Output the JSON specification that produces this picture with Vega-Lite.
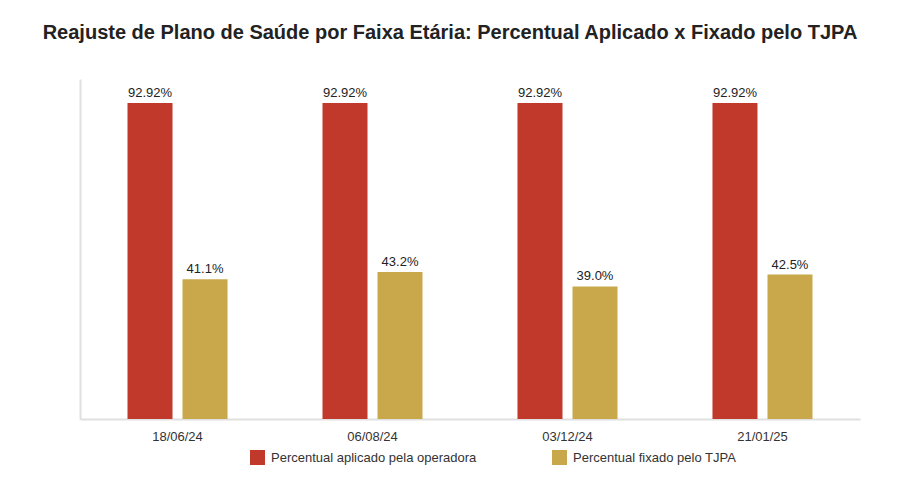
{
  "$schema": "https://vega.github.io/schema/vega-lite/v6.json",
  "autosize": {"type": "none"},
  "width": 780,
  "height": 340,
  "padding": {"left": 80, "top": 79, "right": 40, "bottom": 81},
  "background": "white",
  "title": {
    "text": "Reajuste de Plano de Saúde por Faixa Etária: Percentual Aplicado x Fixado pelo TJPA",
    "font": "Liberation Sans",
    "fontSize": 20,
    "fontWeight": "bold",
    "color": "#222222",
    "anchor": "middle",
    "dx": -20,
    "offset": 36
  },
  "config": {
    "view": {"stroke": null},
    "font": "Liberation Sans"
  },
  "data": {
    "values": [
      {"data": "18/06/24", "serie": "Percentual aplicado pela operadora", "valor": 0.9292},
      {"data": "18/06/24", "serie": "Percentual fixado pelo TJPA", "valor": 0.411},
      {"data": "06/08/24", "serie": "Percentual aplicado pela operadora", "valor": 0.9292},
      {"data": "06/08/24", "serie": "Percentual fixado pelo TJPA", "valor": 0.432},
      {"data": "03/12/24", "serie": "Percentual aplicado pela operadora", "valor": 0.9292},
      {"data": "03/12/24", "serie": "Percentual fixado pelo TJPA", "valor": 0.39},
      {"data": "21/01/25", "serie": "Percentual aplicado pela operadora", "valor": 0.9292},
      {"data": "21/01/25", "serie": "Percentual fixado pelo TJPA", "valor": 0.425}
    ]
  },
  "encoding": {
    "x": {
      "field": "data",
      "type": "nominal",
      "sort": null,
      "title": null,
      "scale": {"paddingInner": 0.487, "paddingOuter": 0.2436},
      "axis": {
        "labelAngle": 0,
        "labelFontSize": 13,
        "labelColor": "#333333",
        "labelPadding": 11,
        "ticks": false,
        "domainColor": "#e0e0e0",
        "domainWidth": 2,
        "grid": false
      }
    },
    "xOffset": {
      "field": "serie",
      "type": "nominal",
      "sort": ["Percentual aplicado pela operadora", "Percentual fixado pelo TJPA"],
      "scale": {"paddingInner": 0.1818, "paddingOuter": 0}
    },
    "y": {
      "field": "valor",
      "type": "quantitative",
      "title": null,
      "scale": {"domain": [0, 1], "nice": false},
      "axis": {
        "labels": false,
        "ticks": false,
        "grid": false,
        "domainColor": "#e0e0e0",
        "domainWidth": 2
      }
    }
  },
  "layer": [
    {
      "mark": {"type": "bar"},
      "encoding": {
        "color": {
          "field": "serie",
          "type": "nominal",
          "title": null,
          "scale": {
            "domain": ["Percentual aplicado pela operadora", "Percentual fixado pelo TJPA"],
            "range": ["#C0392B", "#C9A84C"]
          },
          "legend": {
            "orient": "none",
            "legendX": 170,
            "legendY": 371,
            "direction": "horizontal",
            "symbolType": "square",
            "symbolSize": 225,
            "symbolStrokeWidth": 0,
            "labelFontSize": 13,
            "labelColor": "#333333",
            "labelOffset": 6,
            "columnPadding": 75,
            "labelLimit": 400
          }
        }
      }
    },
    {
      "transform": [{"filter": "datum.serie == 'Percentual aplicado pela operadora'"}],
      "mark": {"type": "text", "baseline": "bottom", "dy": -3, "fontSize": 13, "color": "#222222"},
      "encoding": {
        "text": {"field": "valor", "type": "quantitative", "format": ".2%"}
      }
    },
    {
      "transform": [{"filter": "datum.serie == 'Percentual fixado pelo TJPA'"}],
      "mark": {"type": "text", "baseline": "bottom", "dy": -3, "fontSize": 13, "color": "#222222"},
      "encoding": {
        "text": {"field": "valor", "type": "quantitative", "format": ".1%"}
      }
    }
  ]
}
